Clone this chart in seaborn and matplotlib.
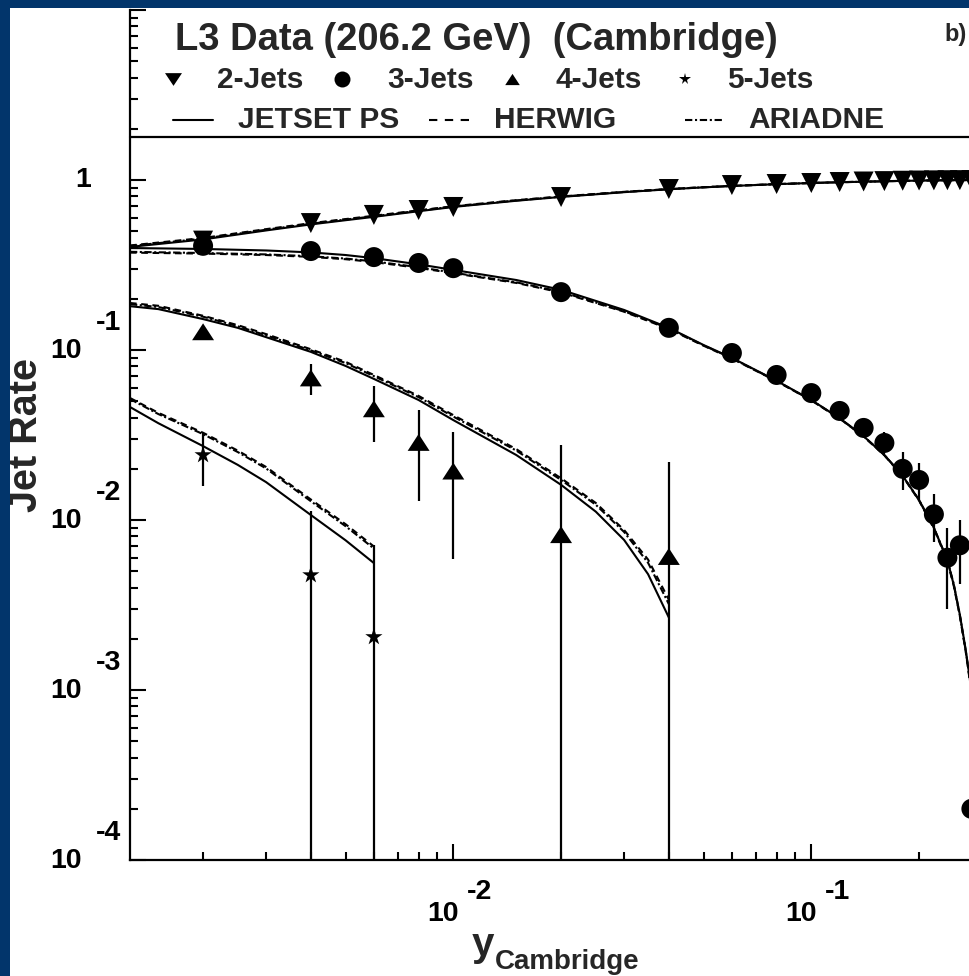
import numpy as np
import pandas as pd
import matplotlib
matplotlib.use("Agg")
import matplotlib.pyplot as plt
import matplotlib.transforms as mtransforms
from matplotlib.lines import Line2D
from matplotlib.patches import Rectangle
from matplotlib.ticker import LogLocator, NullFormatter
import seaborn as sns

# ---------------- measured jet rates, L3 206.2 GeV, Cambridge algorithm ----------------
ycut_23 = [0.002, 0.004, 0.006, 0.008, 0.01, 0.02, 0.04, 0.06, 0.08, 0.10,
           0.12, 0.14, 0.16, 0.18, 0.20, 0.22, 0.24, 0.26, 0.28]
rate_2jet = [0.44, 0.558, 0.623, 0.666, 0.694, 0.794, 0.885, 0.934, 0.947, 0.960,
             0.973, 0.980, 0.985, 0.990, 0.993, 0.995, 0.997, 0.998, 0.999]
err_2jet = [0.012, 0.012, 0.012, 0.011, 0.011, 0.010, 0.008, 0.006, 0.005, 0.005,
            0.004, 0.004, 0.003, 0.003, 0.002, 0.002, 0.002, 0.001, 0.001]
rate_3jet = [0.41, 0.382, 0.352, 0.325, 0.303, 0.219, 0.135, 0.096, 0.0713, 0.0558,
             0.0438, 0.0348, 0.0284, 0.0200, 0.0172, 0.0108, 0.0060, 0.0071, 0.00020]
err_3jet = [0.012, 0.012, 0.012, 0.011, 0.011, 0.010, 0.008, 0.006, 0.005, 0.0045,
            0.004, 0.0035, 0.0047, 0.0050, 0.0043, 0.0034, 0.0030, 0.0029, 0.00095]
ycut_4jet = [0.002, 0.004, 0.006, 0.008, 0.01, 0.02, 0.04]
rate_4jet = [0.128, 0.0685, 0.0451, 0.0286, 0.0194, 0.0082, 0.0061]
err_4jet = [0.008, 0.0142, 0.0165, 0.0157, 0.0135, 0.0195, 0.0158]
ycut_5jet = [0.002, 0.004, 0.006]
rate_5jet = [0.0241, 0.00474, 0.00205]
err_5jet = [0.0082, 0.0065, 0.0051]

# ---------------- Monte Carlo predictions ----------------
ycut_mc23 = [0.00125, 0.002, 0.003, 0.004, 0.005, 0.006, 0.008, 0.01, 0.015, 0.02,
             0.03, 0.04, 0.05, 0.06, 0.08, 0.10, 0.12, 0.14, 0.16, 0.18,
             0.20, 0.22, 0.24, 0.25, 0.26, 0.27, 0.28, 0.29, 0.30]
jetset_2jet = [0.404, 0.447, 0.505, 0.548, 0.580, 0.607, 0.655, 0.694, 0.755, 0.795,
               0.848, 0.882, 0.905, 0.922, 0.945, 0.960, 0.970, 0.977, 0.983, 0.988,
               0.992, 0.995, 0.997, 0.998, 0.9985, 0.999, 0.9995, 0.9998, 1.0]
herwig_2jet = [0.412, 0.456, 0.514, 0.557, 0.589, 0.616, 0.663, 0.701, 0.761, 0.800,
               0.852, 0.885, 0.907, 0.924, 0.946, 0.961, 0.971, 0.978, 0.984, 0.989,
               0.993, 0.995, 0.997, 0.998, 0.9985, 0.999, 0.9995, 0.9998, 1.0]
ariadne_2jet = [0.409, 0.452, 0.510, 0.553, 0.585, 0.612, 0.659, 0.698, 0.758, 0.798,
                0.850, 0.884, 0.906, 0.923, 0.945, 0.960, 0.970, 0.977, 0.983, 0.988,
                0.992, 0.995, 0.997, 0.998, 0.9985, 0.999, 0.9995, 0.9998, 1.0]
jetset_3jet = [0.398, 0.393, 0.385, 0.375, 0.362, 0.347, 0.319, 0.296, 0.258, 0.226,
               0.172, 0.135, 0.107, 0.0899, 0.0659, 0.0508, 0.0397, 0.0311, 0.0241, 0.0182,
               0.0131, 0.0090, 0.0058, 0.00415, 0.00277, 0.00172, 0.00100, 0.00051, 0.00023]
herwig_3jet = [0.374, 0.369, 0.362, 0.353, 0.342, 0.329, 0.304, 0.283, 0.248, 0.218,
               0.168, 0.133, 0.106, 0.0890, 0.0655, 0.0505, 0.0395, 0.0310, 0.0240, 0.0181,
               0.0130, 0.0089, 0.0057, 0.0041, 0.00272, 0.00168, 0.00097, 0.00049, 0.00022]
ariadne_3jet = [0.378, 0.372, 0.365, 0.356, 0.345, 0.332, 0.307, 0.285, 0.250, 0.220,
                0.169, 0.134, 0.1065, 0.0895, 0.0657, 0.0507, 0.0396, 0.0311, 0.0241, 0.0182,
                0.0131, 0.0090, 0.0058, 0.0042, 0.00275, 0.00170, 0.00099, 0.00050, 0.00023]
ycut_mc4 = [0.00125, 0.0015, 0.002, 0.0025, 0.003, 0.004, 0.005, 0.006, 0.008, 0.01,
            0.015, 0.02, 0.025, 0.03, 0.035, 0.04]
jetset_4jet = [0.181, 0.174, 0.152, 0.135, 0.119, 0.0975, 0.0806, 0.0676, 0.0508, 0.0387,
               0.0241, 0.0161, 0.0112, 0.00763, 0.00480, 0.00267]
herwig_4jet = [0.189, 0.182, 0.159, 0.140, 0.124, 0.101, 0.0852, 0.0713, 0.0537, 0.0414,
               0.0261, 0.0176, 0.0126, 0.00873, 0.00585, 0.00340]
ariadne_4jet = [0.186, 0.179, 0.157, 0.138, 0.122, 0.0995, 0.0838, 0.0702, 0.0528, 0.0406,
                0.0256, 0.0172, 0.0123, 0.00850, 0.00560, 0.00320]
ycut_mc5 = [0.00125, 0.0015, 0.002, 0.0025, 0.003, 0.004, 0.005, 0.006]
jetset_5jet = [0.0462, 0.0371, 0.0272, 0.0211, 0.0167, 0.0107, 0.0076, 0.00558]
herwig_5jet = [0.0522, 0.0427, 0.0326, 0.0256, 0.0205, 0.0132, 0.00945, 0.00699]
ariadne_5jet = [0.0515, 0.0420, 0.0320, 0.0251, 0.0201, 0.0129, 0.0092, 0.0068]

multiplicities = ["2-Jets", "3-Jets", "4-Jets", "5-Jets"]
generators = ["JETSET PS", "HERWIG", "ARIADNE"]
y_major = [1.0, 1e-1, 1e-2, 1e-3, 1e-4]
x_major = [1e-2, 1e-1]

# ---------------- tidy tables ----------------
pts = pd.concat([
    pd.DataFrame({"ycut": ycut_23, "rate": rate_2jet, "err": err_2jet, "njet": "2-Jets"}),
    pd.DataFrame({"ycut": ycut_23, "rate": rate_3jet, "err": err_3jet, "njet": "3-Jets"}),
    pd.DataFrame({"ycut": ycut_4jet, "rate": rate_4jet, "err": err_4jet, "njet": "4-Jets"}),
    pd.DataFrame({"ycut": ycut_5jet, "rate": rate_5jet, "err": err_5jet, "njet": "5-Jets"}),
], ignore_index=True)

mc_parts = []
for gen, curves in zip(generators, [
        (jetset_2jet, jetset_3jet, jetset_4jet, jetset_5jet),
        (herwig_2jet, herwig_3jet, herwig_4jet, herwig_5jet),
        (ariadne_2jet, ariadne_3jet, ariadne_4jet, ariadne_5jet)]):
    for nj, xs, ys in zip(multiplicities, [ycut_mc23, ycut_mc23, ycut_mc4, ycut_mc5], curves):
        mc_parts.append(pd.DataFrame({"ycut": xs, "rate": ys, "generator": gen,
                                      "curve": f"{gen} {nj}"}))
mc = pd.concat(mc_parts, ignore_index=True)

# ---------------- figure and axes ----------------
sns.set_theme(style="ticks")
plt.rcParams["font.family"] = ["Liberation Sans", "DejaVu Sans"]
plt.rcParams["font.weight"] = "bold"

W, H = 969, 976
fig = plt.figure(figsize=(W / 100, H / 100), dpi=100, facecolor="white")

def fx(px):
    return px / W

def fy(py):
    return 1 - py / H

xmin, xmax = 0.00125, 0.6
ymin, ymax = 1e-4, 10.0
decade_x, decade_y = 358.0, 170.0
ax_left, ax_bottom = 130, 860
ax_w = decade_x * np.log10(xmax / xmin)
ax_h = decade_y * np.log10(ymax / ymin)
ax = fig.add_axes([fx(ax_left), 1 - ax_bottom / H, ax_w / W, ax_h / H])
ax.set_facecolor("white")
ax.set_xscale("log")
ax.set_yscale("log")
ax.set_xlim(xmin, xmax)
ax.set_ylim(ymin, ymax)

# Monte Carlo curves
dash_map = {"JETSET PS": "", "HERWIG": (3.2, 2.2), "ARIADNE": (3.5, 1.2, 1.0, 1.2)}
sns.lineplot(data=mc, x="ycut", y="rate", style="generator", units="curve",
             estimator=None, sort=False, dashes=dash_map, color="black",
             linewidth=1.5, legend=False, ax=ax, zorder=3)

# error bars, then markers
ax.errorbar(pts["ycut"], pts["rate"], yerr=pts["err"], fmt="none",
            ecolor="black", elinewidth=1.6, capsize=0, zorder=4)

tri_up = [(0, 0.77), (-1, -0.77), (1, -0.77)]
marker_map = {"2-Jets": "v", "3-Jets": "o", "4-Jets": tri_up, "5-Jets": "*"}
size_map = {"2-Jets": 14.4 ** 2, "3-Jets": 14.4 ** 2, "4-Jets": 15.8 ** 2, "5-Jets": 13.0 ** 2}
sns.scatterplot(data=pts, x="ycut", y="rate", style="njet", markers=marker_map,
                size="njet", sizes=size_map, color="black", edgecolor="black",
                linewidth=0, legend=False, ax=ax, zorder=5)

# axes cosmetics
for side in ("top", "right"):
    ax.spines[side].set_visible(False)
for side in ("left", "bottom"):
    ax.spines[side].set_linewidth(1.6)
    ax.spines[side].set_color("black")
ax.xaxis.set_major_locator(LogLocator(base=10))
ax.yaxis.set_major_locator(LogLocator(base=10))
ax.xaxis.set_minor_locator(LogLocator(base=10, subs=np.arange(2, 10)))
ax.yaxis.set_minor_locator(LogLocator(base=10, subs=np.arange(2, 10)))
ax.xaxis.set_minor_formatter(NullFormatter())
ax.yaxis.set_minor_formatter(NullFormatter())
ax.tick_params(which="both", direction="in", top=False, right=False,
               labelbottom=False, labelleft=False, color="black", width=1.5)
ax.tick_params(which="major", length=11.5)
ax.tick_params(which="minor", length=5.5)
ax.set_xlabel("")
ax.set_ylabel("")

# decade labels with raised exponents
def px_shift(dx, dy):
    return mtransforms.ScaledTranslation(dx / 100, dy / 100, fig.dpi_scale_trans)

lab_font = dict(fontsize=20.5, fontweight="bold", color="black")
ytr = mtransforms.blended_transform_factory(ax.transAxes, ax.transData)
for v in y_major:
    e = int(round(np.log10(v)))
    if e == 0:
        ax.text(0, v, "1", transform=ytr + px_shift(-39, 0), ha="right", va="center", **lab_font)
    else:
        ax.text(0, v, "10", transform=ytr + px_shift(-48, -1), ha="right", va="center", **lab_font)
        ax.text(0, v, f"-{abs(e)}", transform=ytr + px_shift(-34, 27), ha="left",
                va="center", **lab_font)
xtr = mtransforms.blended_transform_factory(ax.transData, ax.transAxes)
for v in x_major:
    e = int(round(np.log10(v)))
    ax.text(v, 0, "10", transform=xtr + px_shift(5, -54), ha="right", va="center", **lab_font)
    ax.text(v, 0, f"-{abs(e)}", transform=xtr + px_shift(14, -32), ha="left",
            va="center", **lab_font)

# axis titles
fig.text(fx(26), fy(435), "Jet Rate", rotation=90, ha="center", va="center",
         fontsize=28.5, fontweight="bold")
fig.text(fx(472), fy(956), "y", ha="left", va="baseline", fontsize=29, fontweight="bold")
fig.text(fx(495), fy(969), "Cambridge", ha="left", va="baseline", fontsize=20, fontweight="bold")

# header box with title and key
fig.text(fx(175), fy(50), "L3 Data (206.2 GeV)  (Cambridge)", ha="left", va="baseline",
         fontsize=27.5, fontweight="bold")
fig.text(fx(944), fy(41), "b)", ha="left", va="baseline", fontsize=17, fontweight="bold")
fig.add_artist(Line2D([fx(ax_left), 1.0], [fy(137), fy(137)], color="black", lw=1.6))

key_font = dict(fontsize=21.5, fontweight="bold", va="center", ha="left")
tri_dn_key = [(-1, 0.75), (1, 0.75), (0, -0.75)]
key_marks = [("2-Jets", tri_dn_key, 12.2, 173, 217),
             ("3-Jets", "o", 11.5, 342, 387),
             ("4-Jets", tri_up, 10.5, 512, 556),
             ("5-Jets", "*", 8.5, 685, 727)]
for label, mk, ms, mx, tx in key_marks:
    fig.add_artist(Line2D([fx(mx)], [fy(79)], marker=mk, ms=ms, color="black",
                          markeredgewidth=0, linestyle="none"))
    fig.text(fx(tx), fy(80), label, **key_font)

key_dashes = {"JETSET PS": "", "HERWIG": (4.0, 3.6), "ARIADNE": (3.5, 1.3, 1.0, 1.3)}
key_lines = [("JETSET PS", 173, 213, 238),
             ("HERWIG", 429, 471, 494),
             ("ARIADNE", 685, 723, 748)]
for label, x0, x1, tx in key_lines:
    ln = Line2D([fx(x0), fx(x1)], [fy(120), fy(120)], color="black", lw=1.5)
    ln.set_dashes(key_dashes[label])
    fig.add_artist(ln)
    fig.text(fx(tx), fy(120), label, **key_font)

# navy page border
border = "#02356b"
fig.add_artist(Rectangle((0, 0), fx(10), 1, transform=fig.transFigure,
                         facecolor=border, edgecolor="none", zorder=100))
fig.add_artist(Rectangle((0, fy(8)), 1, 8 / H, transform=fig.transFigure,
                         facecolor=border, edgecolor="none", zorder=100))

fig.savefig("out.png", dpi=100, facecolor="white")
